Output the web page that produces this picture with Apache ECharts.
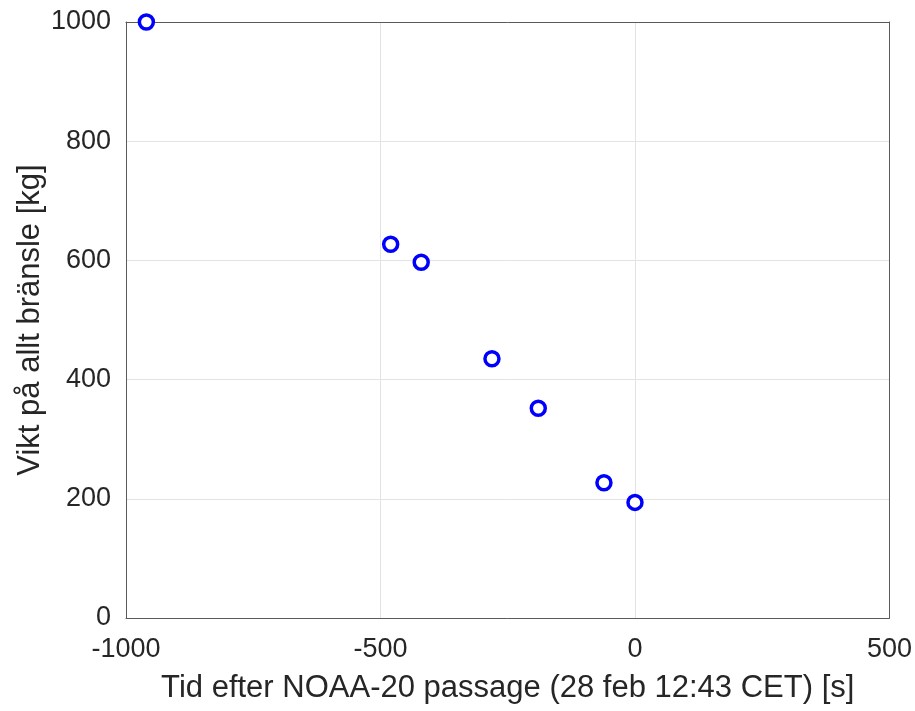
<!DOCTYPE html>
<html>
<head>
<meta charset="utf-8">
<script src="https://cdn.jsdelivr.net/npm/echarts@6/dist/echarts.min.js"></script>
<style>html,body{margin:0;padding:0;background:#fff}#c{width:915px;height:711px}</style>
</head>
<body>
<div id="c"></div>
<script>
var timeValues = [-960, -480, -420, -281, -190, -61, 0];
var weightValues = [1000, 627, 597, 435, 352, 227, 194];
var xLabel = 'Tid efter NOAA-20 passage (28 feb 12:43 CET) [s]';
var yLabel = 'Vikt på allt bränsle [kg]';

var points = timeValues.map(function (t, i) { return [t, weightValues[i]]; });
var font = 'Liberation Sans, Arial, Helvetica, sans-serif';
var plain = function (v) { return String(v); };
var boxLine = {show: true, onZero: false, lineStyle: {color: '#5a5a5a', width: 1}};
var chart = echarts.init(document.getElementById('c'), null, {renderer: 'canvas'});
chart.setOption({
  animation: false,
  backgroundColor: '#ffffff',
  grid: {left: 126, right: 25, top: 22, bottom: 93, show: false, containLabel: false},
  xAxis: [{
    type: 'value', min: -1000, max: 500, interval: 500,
    name: xLabel, nameLocation: 'middle', nameGap: 55,
    nameTextStyle: {fontFamily: font, fontSize: 31, color: '#262626'},
    axisLine: boxLine,
    axisTick: {show: false},
    axisLabel: {fontFamily: font, fontSize: 27, color: '#262626', margin: 18, formatter: plain},
    splitLine: {show: true, lineStyle: {color: '#e3e3e3', width: 1}}
  }, {
    type: 'value', position: 'top', min: -1000, max: 500, interval: 500,
    axisLine: boxLine, axisTick: {show: false}, axisLabel: {show: false}, splitLine: {show: false}
  }],
  yAxis: [{
    type: 'value', min: 0, max: 1000, interval: 200,
    name: yLabel, nameLocation: 'middle', nameGap: 80, nameRotate: 90, nameMoveOverlap: false,
    nameTextStyle: {fontFamily: font, fontSize: 31, color: '#262626'},
    axisLine: boxLine,
    axisTick: {show: false},
    axisLabel: {fontFamily: font, fontSize: 27, color: '#262626', margin: 15, formatter: plain},
    splitLine: {show: true, lineStyle: {color: '#e3e3e3', width: 1}}
  }, {
    type: 'value', position: 'right', min: 0, max: 1000, interval: 200,
    axisLine: boxLine, axisTick: {show: false}, axisLabel: {show: false}, splitLine: {show: false}
  }],
  series: [{
    type: 'scatter',
    data: points,
    symbol: 'circle',
    symbolSize: 14,
    clip: false,
    itemStyle: {color: '#ffffff', borderColor: '#0000ff', borderWidth: 3.5, opacity: 1},
    emphasis: {disabled: true}
  }]
});
</script>
</body>
</html>
